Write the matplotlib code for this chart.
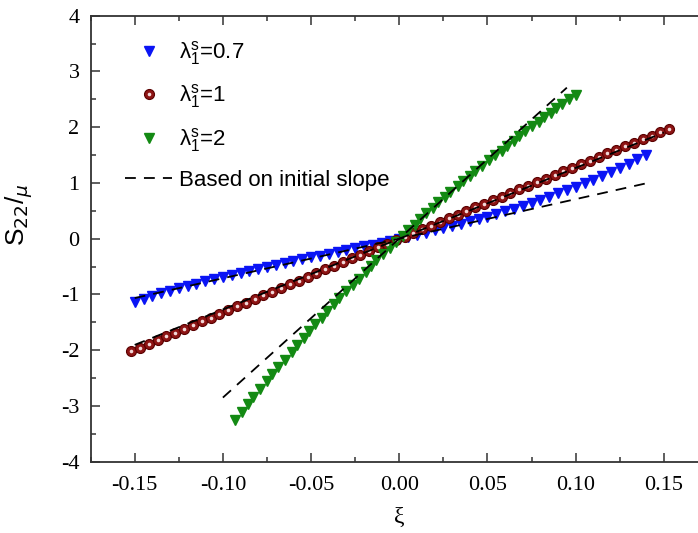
import numpy as np, matplotlib
matplotlib.use('Agg')
import matplotlib.pyplot as plt
from matplotlib.lines import Line2D
from matplotlib.legend_handler import HandlerTuple
from matplotlib.ticker import MultipleLocator, FormatStrFormatter

BLUE = '#0a14f5'; RED = '#8e1414'; RED_EDGE = '#5a0000'; GREEN = '#138a13'
SERIF = ['Liberation Serif', 'DejaVu Serif']
SANS = ['Liberation Sans', 'DejaVu Sans']

# S22/mu vs xi, lambda_1^s = 0.7
xi_07 = [-0.150, -0.145, -0.140, -0.135, -0.130, -0.125, -0.120, -0.115, -0.110, -0.105,
         -0.100, -0.095, -0.090, -0.085, -0.080, -0.075, -0.070, -0.065, -0.060, -0.055,
         -0.050, -0.045, -0.040, -0.035, -0.030, -0.025, -0.020, -0.015, -0.010, -0.005,
         0.000, 0.005, 0.010, 0.015, 0.020, 0.025, 0.030, 0.035, 0.040, 0.045,
         0.050, 0.055, 0.060, 0.065, 0.070, 0.075, 0.080, 0.085, 0.090, 0.095,
         0.100, 0.105, 0.110, 0.115, 0.120, 0.125, 0.130, 0.135, 0.140]
s22_07 = [-1.128, -1.078, -1.029, -0.982, -0.937, -0.892, -0.849, -0.807, -0.767, -0.727,
          -0.688, -0.650, -0.613, -0.577, -0.541, -0.506, -0.472, -0.438, -0.404, -0.370,
          -0.337, -0.304, -0.271, -0.238, -0.205, -0.172, -0.138, -0.104, -0.070, -0.035,
          0.000, 0.036, 0.072, 0.110, 0.148, 0.187, 0.227, 0.268, 0.310, 0.353,
          0.398, 0.444, 0.492, 0.541, 0.591, 0.643, 0.697, 0.753, 0.811, 0.870,
          0.932, 0.996, 1.062, 1.130, 1.201, 1.273, 1.349, 1.427, 1.508]

# lambda_1^s = 1
xi_1 = [-0.152, -0.147, -0.142, -0.137, -0.132, -0.127, -0.122, -0.117, -0.112, -0.107,
        -0.102, -0.097, -0.092, -0.087, -0.082, -0.077, -0.072, -0.067, -0.062, -0.057,
        -0.052, -0.047, -0.042, -0.037, -0.032, -0.027, -0.022, -0.017, -0.012, -0.007,
        -0.002, 0.003, 0.008, 0.013, 0.018, 0.023, 0.028, 0.033, 0.038, 0.043,
        0.048, 0.053, 0.058, 0.063, 0.068, 0.073, 0.078, 0.083, 0.088, 0.093,
        0.098, 0.103, 0.108, 0.113, 0.118, 0.123, 0.128, 0.133, 0.138, 0.143,
        0.148, 0.153]
s22_1 = [-2.019, -1.952, -1.884, -1.817, -1.750, -1.683, -1.616, -1.549, -1.482, -1.415,
         -1.348, -1.282, -1.215, -1.149, -1.082, -1.016, -0.950, -0.883, -0.817, -0.751,
         -0.685, -0.618, -0.552, -0.486, -0.420, -0.354, -0.289, -0.223, -0.157, -0.092,
         -0.026, 0.039, 0.105, 0.170, 0.235, 0.301, 0.366, 0.431, 0.496, 0.561,
         0.626, 0.691, 0.756, 0.821, 0.885, 0.950, 1.014, 1.079, 1.143, 1.208,
         1.272, 1.336, 1.401, 1.465, 1.529, 1.593, 1.657, 1.721, 1.785, 1.848,
         1.912, 1.976]

# lambda_1^s = 2
xi_2 = [-0.093, -0.089, -0.086, -0.083, -0.079, -0.075, -0.072, -0.069, -0.065, -0.061,
        -0.058, -0.054, -0.051, -0.048, -0.044, -0.041, -0.037, -0.034, -0.030, -0.026,
        -0.023, -0.019, -0.016, -0.013, -0.009, -0.005, -0.002, 0.002, 0.005, 0.009,
        0.012, 0.015, 0.019, 0.022, 0.026, 0.029, 0.033, 0.036, 0.040, 0.043,
        0.047, 0.051, 0.054, 0.058, 0.061, 0.065, 0.068, 0.071, 0.075, 0.079,
        0.082, 0.086, 0.089, 0.092, 0.096, 0.100]
s22_2 = [-3.250, -3.109, -2.970, -2.832, -2.696, -2.561, -2.428, -2.297, -2.167, -2.038,
         -1.911, -1.785, -1.661, -1.538, -1.417, -1.296, -1.178, -1.060, -0.944, -0.829,
         -0.716, -0.603, -0.492, -0.382, -0.274, -0.166, -0.060, 0.045, 0.149, 0.252,
         0.353, 0.454, 0.553, 0.652, 0.749, 0.846, 0.941, 1.036, 1.129, 1.221,
         1.313, 1.404, 1.493, 1.582, 1.670, 1.757, 1.843, 1.929, 2.013, 2.097,
         2.180, 2.263, 2.344, 2.425, 2.505, 2.585]

# straight lines from the initial slope (end points)
init_xi_07 = [-0.150, 0.143]; init_s22_07 = [-1.065, 1.015]
init_xi_1 = [-0.150, 0.150];  init_s22_1 = [-1.905, 1.905]
init_xi_2 = [-0.100, 0.095];  init_s22_2 = [-2.850, 2.710]

fig = plt.figure(figsize=(6.98, 5.33), dpi=100)
ax = fig.add_axes([0.1298, 0.1338, 0.8845, 0.8367])

ax.plot(xi_07, s22_07, 'v', ms=7.5, color=BLUE, mec=BLUE, zorder=3)
ax.plot(xi_1, s22_1, 'o', ms=7.2, color=RED, mec=RED_EDGE, mew=0.8, zorder=3)
ax.plot(xi_1, s22_1, 'o', ms=2.6, color='#f2d8d8', mec='none', zorder=3.1)
ax.plot(xi_2, s22_2, 'v', ms=7.5, color=GREEN, mec=GREEN, zorder=3)

dash_kw = dict(color='black', lw=1.3, dashes=(6, 4.5), zorder=4)
ax.plot(init_xi_07, init_s22_07, **dash_kw)
ax.plot(init_xi_1, init_s22_1, **dash_kw)
ax.plot(init_xi_2, init_s22_2, **dash_kw)

ax.set_xlim(-0.175, 0.175); ax.set_ylim(-4, 4)
ax.xaxis.set_major_locator(MultipleLocator(0.05)); ax.xaxis.set_minor_locator(MultipleLocator(0.025))
ax.yaxis.set_major_locator(MultipleLocator(1)); ax.yaxis.set_minor_locator(MultipleLocator(0.5))
ax.xaxis.set_major_formatter(FormatStrFormatter('%.2f'))
ax.yaxis.set_major_formatter(FormatStrFormatter('%d'))
ax.tick_params(which='both', direction='in', top=True, right=True, width=1.1, color='#333333')
ax.tick_params(which='major', length=6.5)
ax.tick_params(which='minor', length=3.5)
ax.tick_params(axis='x', pad=10)
ax.tick_params(axis='y', pad=8)
for lbl in ax.get_xticklabels() + ax.get_yticklabels():
    lbl.set_fontfamily(SERIF); lbl.set_fontsize(16)
for sp in ax.spines.values():
    sp.set_linewidth(1.3); sp.set_color('#333333')

ax.set_xlabel('ξ', fontsize=17, family=SERIF, labelpad=9)
ax.set_ylabel(r'S$_{22}$/$_{\mu}$', fontsize=19, family=SANS)
ax.yaxis.set_label_coords(-0.09, 0.554)

h07 = Line2D([], [], ls='none', marker='v', ms=7.5, color=BLUE)
h1a = Line2D([], [], ls='none', marker='o', ms=7.2, color=RED, mec=RED_EDGE, mew=0.8)
h1b = Line2D([], [], ls='none', marker='o', ms=2.6, color='#f2d8d8', mec='none')
h2 = Line2D([], [], ls='none', marker='v', ms=7.5, color=GREEN)
hd = Line2D([], [], color='black', lw=1.3, dashes=(6, 4.5))
lam = r'$\mathregular{\lambda_1^s}$'
ax.legend([h07, (h1a, h1b), h2, hd],
          [lam + '=0.7', lam + '=1', lam + '=2', 'Based on initial slope'],
          handler_map={tuple: HandlerTuple(ndivide=1, pad=0)},
          loc='upper left', bbox_to_anchor=(0.056, 0.948), frameon=False,
          prop={'family': SANS, 'size': 16}, handlelength=2.1, handletextpad=0.3,
          labelspacing=0.7, borderaxespad=0, borderpad=0)

fig.savefig('out.png', dpi=100)
